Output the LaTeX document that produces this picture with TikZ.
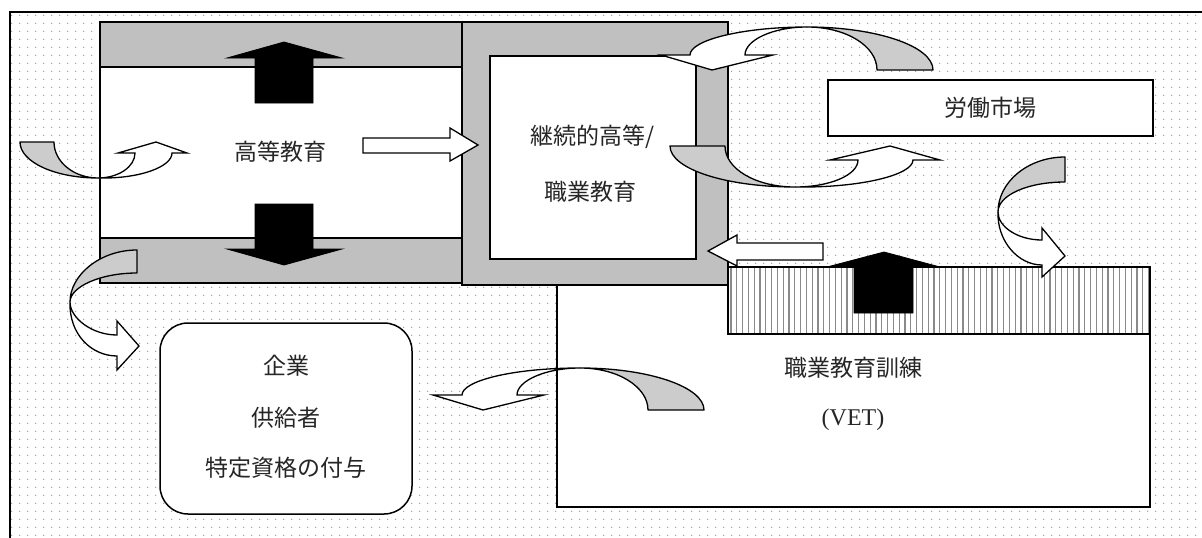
\documentclass[tikz,border=0pt]{standalone}
\usepackage{fontspec}
\setmainfont{Liberation Serif}
\newfontfamily\jp{Noto Sans CJK JP}
\usetikzlibrary{patterns.meta}
\definecolor{bandgray}{HTML}{C0C0C0}
\definecolor{arrgray}{HTML}{CCCCCC}
\definecolor{dotgray}{HTML}{9A9A9A}
\definecolor{stripegray}{HTML}{8A8A8A}
\definecolor{txt}{HTML}{262626}
\tikzdeclarepattern{name=bgdots, type=uncolored,
  bounding box={(0pt,0pt) and (8.2pt,8.2pt)}, tile size={(8.2pt,8.2pt)},
  code={\fill (4.1pt,4.1pt) circle (0.8pt);}}
\begin{document}
\begin{tikzpicture}[x=1pt,y=-1pt,
  edge/.style={draw=black, line width=1.5pt},
  lbl/.style={font=\jp\fontsize{23}{28}\selectfont, text=txt, inner sep=0pt},
  latin/.style={font=\fontsize{24}{28}\selectfont, text=txt, inner sep=0pt},
  grayrib/.style={fill=arrgray, draw=black, line width=1.3pt, line join=round},
  whiterib/.style={fill=white, draw=black, line width=1.3pt, line join=miter},
  blackarr/.style={fill=black, draw=black, line width=0.8pt},
  hollow/.style={fill=white, draw=black, line width=1.3pt}]
\useasboundingbox (0,0) rectangle (1202,538);
\clip (0,0) rectangle (1202,538);
\fill[white] (0,0) rectangle (1202,538);
% dotted background and frame
\fill[pattern=bgdots, pattern color=dotgray] (10,12) rectangle (1212,548);
\draw[edge] (10,12) rectangle (1212,548);
% VET box
\draw[edge, fill=white] (557,267) rectangle (1150,507);
\fill[white] (728,267) rectangle (1150,334);
\foreach \i in {0,...,72} \draw[stripegray, line width=1.3pt] ({731+5.8*\i},268) -- ({731+5.8*\i},333);
\draw[edge] (728,267) rectangle (1150,334);
% higher education box
\fill[bandgray] (100,22) rectangle (462,67);
\fill[white] (100,67) rectangle (462,238);
\fill[bandgray] (100,238) rectangle (462,283);
\draw[edge] (100,22) rectangle (462,283);
\draw[edge] (100,67) -- (462,67);
\draw[edge] (100,238) -- (462,238);
% continuing education box
\draw[edge, fill=bandgray] (462,22) rectangle (728,285);
\draw[edge, fill=white] (490,56) rectangle (696,259);
% labour market box
\draw[edge, fill=white] (828,80) rectangle (1153,136);
% rounded box
\draw[edge, fill=white, rounded corners=28pt] (160,323) rectangle (412,514);
% texts
\node[lbl] (he) at (280,152) {高等教育};
\node[lbl] (ce1) at (593,137) {継続的高等/};
\node[lbl] (ce2) at (590,192) {職業教育};
\node[lbl] (lm) at (990,108) {労働市場};
\node[lbl] (co1) at (286,366) {企業};
\node[lbl] (co2) at (286,418) {供給者};
\node[lbl] (co3) at (286,468) {特定資格の付与};
\node[lbl] (vet1) at (853,368) {職業教育訓練};
\node[latin] (vet2) at (853,420) {(VET)};
% black block arrows
\draw[blackarr] (255,103) -- (255,58) -- (227,58) -- (284,42) -- (342,58) -- (313,58) -- (313,103) -- cycle;
\draw[blackarr] (255,204) -- (255,249) -- (227,249) -- (284,265) -- (342,249) -- (313,249) -- (313,204) -- cycle;
\draw[blackarr] (854,313) -- (854,267) -- (827,267) -- (884,252) -- (940,267) -- (913,267) -- (913,313) -- cycle;
% hollow straight arrows
\draw[hollow] (363,138) -- (450,138) -- (450,128) -- (478,145) -- (450,161) -- (450,153) -- (363,153) -- cycle;
\draw[hollow] (823,243) -- (737,243) -- (737,235) -- (708,251) -- (737,266) -- (737,260) -- (823,260) -- cycle;
% curved arrow A (left)
\draw[grayrib] (20,142) -- (54,142) .. controls (54,162) and (74,178) .. (98,178) .. controls (55,178) and (20,162) .. (20,142) -- cycle;
\draw[whiterib] (98,178) .. controls (118,178) and (135,167) .. (135,153) -- (118,153) -- (156,142) -- (187,153) -- (172,153) .. controls (172,167) and (139,179) .. (98,178) -- cycle;
% curved arrow B (top right)
\draw[grayrib] (807,27) .. controls (876,27) and (933,46) .. (933,70) -- (877,70) .. controls (877,46) and (846,27) .. (807,27) -- cycle;
\draw[whiterib] (807,27) .. controls (743,27) and (690,40) .. (690,55) -- (661,55) -- (712,70) -- (773,55) -- (745,55) .. controls (745,40) and (773,27) .. (807,27) -- cycle;
% curved arrow C (middle)
\draw[grayrib] (670,146) -- (725,146) .. controls (725,169) and (756,187) .. (795,187) .. controls (726,187) and (670,169) .. (670,146) -- cycle;
\draw[whiterib] (795,187) .. controls (830,187) and (858,175) .. (858,160) -- (830,160) -- (890,146) -- (940,160) -- (913,160) .. controls (913,175) and (860,188) .. (795,187) -- cycle;
% curved arrow D (right)
\draw[grayrib] (1065,157) -- (1065,182) .. controls (1028,182) and (998,195) .. (998,212) .. controls (998,182) and (1028,157) .. (1065,157) -- cycle;
\draw[whiterib] (998,212) .. controls (998,227) and (1018,240) .. (1042,240) -- (1042,228) -- (1065,256) -- (1042,277) -- (1042,265) .. controls (1018,265) and (997,241) .. (998,212) -- cycle;
% curved arrow E (bottom left)
\draw[grayrib] (137,250) -- (137,273) .. controls (100,273) and (70,287) .. (70,302) .. controls (70,275) and (100,250) .. (137,250) -- cycle;
\draw[whiterib] (70,302) .. controls (70,318) and (92,335) .. (117,335) -- (117,321) -- (139,346) -- (117,370) -- (117,356) .. controls (92,356) and (69,335) .. (70,302) -- cycle;
% curved arrow F (bottom middle)
\draw[grayrib] (580,368) .. controls (649,368) and (704,387) .. (704,410) -- (648,410) .. controls (648,387) and (618,368) .. (580,368) -- cycle;
\draw[whiterib] (580,368) .. controls (512,368) and (462,381) .. (462,395) -- (433,395) -- (483,410) -- (544,395) -- (517,395) .. controls (517,381) and (545,368) .. (580,368) -- cycle;
\end{tikzpicture}
\end{document}
